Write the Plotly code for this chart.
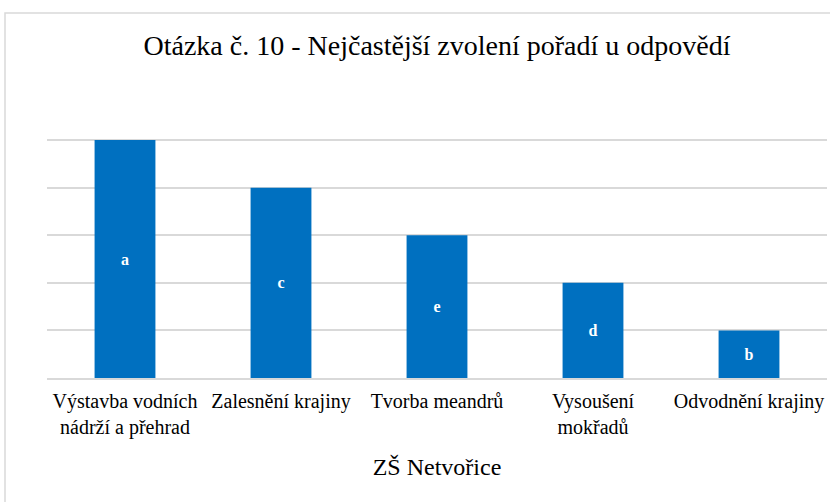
import plotly.graph_objects as go

categories = ["Výstavba vodních<br>nádrží a přehrad", "Zalesnění krajiny", "Tvorba meandrů",
              "Vysoušení<br>mokřadů", "Odvodnění krajiny"]
values = [5, 4, 3, 2, 1]
labels = ["a", "c", "e", "d", "b"]

FONT = "Liberation Serif"

fig = go.Figure(go.Bar(
    x=categories, y=values, text=labels,
    marker=dict(color="#0070C0", line=dict(width=0)),
    width=0.39,
    textposition="inside", insidetextanchor="middle",
    textfont=dict(family=FONT, size=16, color="white", weight="bold"),
    hoverinfo="skip",
))

fig.update_layout(
    width=830, height=502,
    margin=dict(l=47, r=3, t=92, b=124, autoexpand=False),
    paper_bgcolor="white", plot_bgcolor="white",
    showlegend=False,
    title=dict(text="Otázka č. 10 - Nejčastější zvolení pořadí u odpovědí",
               x=0.5, xref="paper", xanchor="center", y=1 - 45 / 502, yanchor="middle",
               font=dict(family=FONT, size=28, color="#000000")),
    font=dict(family=FONT, color="#000000"),
    xaxis=dict(
        showgrid=False, showline=True, linecolor="#d9d9d9", linewidth=1.5,
        ticks="", tickfont=dict(family=FONT, size=20, color="#000000"),
        ticklabelstandoff=4,
        automargin=False,
        title=dict(text="ZŠ Netvořice", font=dict(family=FONT, size=24, color="#000000"),
                   standoff=20),
    ),
    yaxis=dict(
        range=[0, 6.01], dtick=1, showticklabels=False, ticks="", automargin=False,
        showgrid=True, gridcolor="#d9d9d9", gridwidth=1.5, zeroline=False, showline=False,
    ),
    shapes=[dict(type="rect", xref="paper", yref="paper",
                 x0=(5 - 47) / 780, x1=1.2, y0=-1.0, y1=1 + (92 - 13) / 286,
                 line=dict(color="#d9d9d9", width=1.5), fillcolor="rgba(0,0,0,0)",
                 layer="below")],
)

fig.write_html("out.html", config={"displayModeBar": False},
               post_script="document.body.style.margin='0';")
